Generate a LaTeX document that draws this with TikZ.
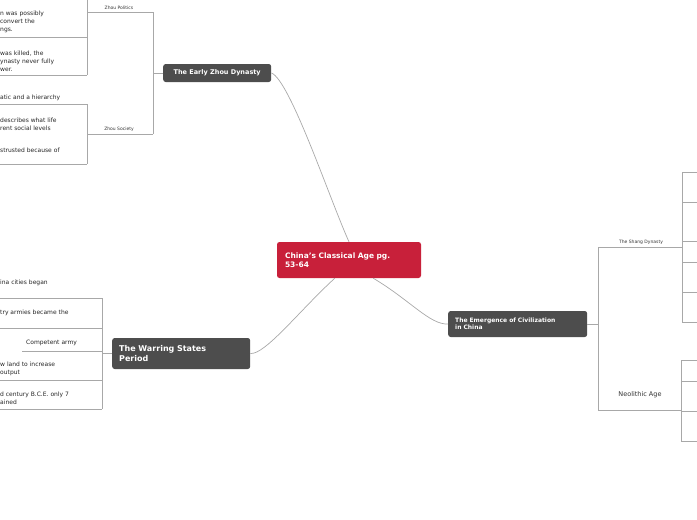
\documentclass[tikz,border=0pt]{standalone}
\usepackage{fontspec}
\setmainfont{DejaVu Sans}
\usetikzlibrary{positioning}
\definecolor{topicgray}{HTML}{4D4D4D}
\definecolor{centralred}{HTML}{C8203A}
\definecolor{linegray}{HTML}{A8A8A8}
\tikzset{
  topic/.style={fill=topicgray, text=white, rounded corners=2.5pt, font=\bfseries\fontsize{6.5}{7.5}\selectfont, align=left, inner sep=4pt, anchor=west},
  sublabel/.style={font=\fontsize{4.5}{5}\selectfont, text=black!80, inner sep=1pt, anchor=south},
  leaf/.style={font=\fontsize{6}{8}\selectfont, text=black!85, align=left, inner sep=0pt, anchor=west},
  link/.style={draw=linegray, line width=0.7pt},
  tree/.style={draw=linegray, line width=0.5pt}
}
\begin{document}
\begin{tikzpicture}[x=1pt,y=-1pt]
  \useasboundingbox (0,0) rectangle (697,520);
  % Nodos
  \node[fill=centralred, text=white, rounded corners=2.5pt, font=\bfseries\fontsize{7.5}{9}\selectfont, align=left, minimum width=144pt, minimum height=36pt, text width=128pt] (china) at (349,260) {China's Classical Age pg.\\53-64};
  \node[topic, minimum width=108pt, minimum height=18pt] (zhou) at (163,73) {The Early Zhou Dynasty};
  \node[topic, font=\bfseries\fontsize{8}{10}\selectfont, minimum width=138pt, minimum height=31pt, text width=124pt] (warring) at (112,353.5) {The Warring States\\Period};
  \node[topic, font=\bfseries\fontsize{6}{7}\selectfont, minimum width=139pt, minimum height=26pt, text width=125pt] (emerge) at (448,324) {The Emergence of Civilization\\in China};

  % Aristas
  \draw[link] (china.north) .. controls (330,200) and (290,80) .. (zhou.east);
  \draw[link] ([xshift=58pt]china.south west) .. controls (300,310) and (265,355) .. (warring.east);
  \draw[link] ([xshift=-48pt]china.south east) .. controls (410,300) and (430,325) .. (emerge.west);

  % Zhou
  \draw[tree] (zhou.west) -- (153,73);
  \draw[tree] (153,12) -- (153,134);
  \draw[tree] (153,12) -- (87,12);
  \draw[tree] (153,134) -- (87,134);
  \node[sublabel] (zpt) at (119,11) {Zhou Politics};
  \node[sublabel] (zst) at (119,133) {Zhou Society};
  \draw[tree] (87,0) -- (87,75);
  \foreach \y in {37,75} \draw[tree] (87,\y) -- (0,\y);
  \draw[tree] (87,104) -- (87,164);
  \foreach \y in {104,164} \draw[tree] (87,\y) -- (0,\y);
  \node[leaf] (p1) at (0,22) {n was possibly\\convert the\\ngs.};
  \node[leaf] (p2) at (0,61) {was killed, the\\ynasty never fully\\wer.};
  \node[leaf] (s1) at (0,98) {atic and a hierarchy};
  \node[leaf] (s2) at (0,124) {describes what life\\rent social levels};
  \node[leaf] (s3) at (0,150) {strusted because of};

  % Warring
  \draw[tree] (warring.west) -- (102,353.5);
  \draw[tree] (102,298) -- (102,409);
  \foreach \y in {298,328,380,409} \draw[tree] (102,\y) -- (0,\y);
  \draw[tree] (102,351) -- (22,351);
  \node[leaf] (w1) at (0,283) {ina cities began};
  \node[leaf] (w2) at (0,313) {try armies became the};
  \node[leaf] (w3) at (26,343) {Competent army};
  \node[leaf] (w4) at (0,368.5) {w land to increase\\output};
  \node[leaf] (w5) at (0,398.5) {d century B.C.E. only 7\\ained};

  % Emergence
  \draw[tree] (emerge.east) -- (598,324);
  \draw[tree] (598,247) -- (598,410);
  \draw[tree] (598,247) -- (682,247);
  \draw[tree] (598,410) -- (681,410);
  \node[sublabel] (shang) at (641,246) {The Shang Dynasty};
  \node[sublabel, font=\fontsize{6.5}{8}\selectfont] (neo) at (640,399) {Neolithic Age};
  \draw[tree] (682,172) -- (682,322);
  \foreach \y in {172,202,241,262,292,322} \draw[tree] (682,\y) -- (697,\y);
  \draw[tree] (681,360) -- (681,441);
  \foreach \y in {360,381,411,441} \draw[tree] (681,\y) -- (697,\y);
\end{tikzpicture}
\end{document}
